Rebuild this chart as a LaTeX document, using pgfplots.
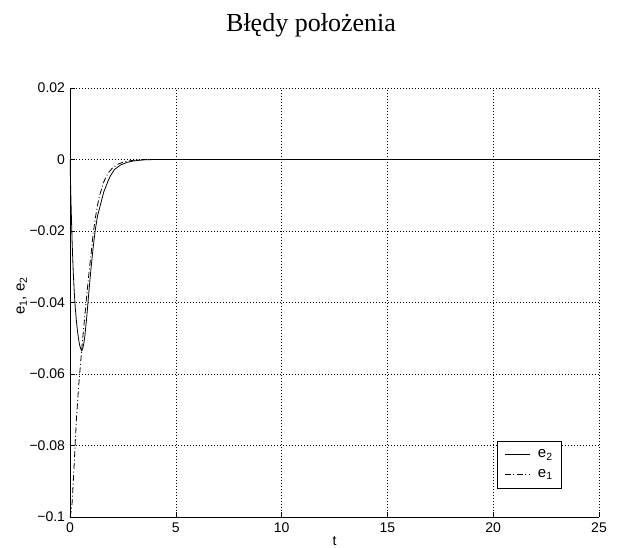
\documentclass[border=0pt]{standalone}
\usepackage{fontspec}
\setmainfont{Liberation Sans}
\newfontfamily\titlefont{Liberation Serif}
\usepackage{pgfplots}
\pgfplotsset{compat=1.18}

\begin{document}
\begin{tikzpicture}[x=1pt,y=1pt]
\path[use as bounding box] (0,0) rectangle (621,547);
\begin{axis}[
  at={(70pt,30pt)}, anchor=south west,
  scale only axis, width=529pt, height=429pt,
  xmin=0, xmax=25, ymin=-0.1, ymax=0.02,
  axis x line*=bottom, axis y line*=left,
  axis line style={-, line width=0.6pt},
  tick align=inside, major tick length=5pt,
  tick style={black, line width=0.6pt},
  xtick={0,5,10,15,20,25},
  ytick={-0.1,-0.08,-0.06,-0.04,-0.02,0,0.02},
  yticklabels={−0.1,−0.08,−0.06,−0.04,−0.02,0,0.02},
  xticklabels={0,5,10,15,20,25},
  yticklabel style={xshift=-1.5pt},
  xticklabel style={yshift=-2pt},
  grid=major,
  major grid style={black, line width=0.4pt, dash pattern=on 0.6pt off 2.4pt},
  font=\fontsize{14}{16}\selectfont,
  /pgf/number format/assume math mode=true,
  xlabel={t},
  xlabel style={at={(axis description cs:0.5,-0.056)}, anchor=center},
  ylabel={e\textsubscript{1}, e\textsubscript{2}},
  ylabel style={at={(axis description cs:-0.091,0.515)}, anchor=center, font=\fontsize{15}{17}\selectfont},
  legend cell align=left,
  legend style={at={(0.930,0.067)}, anchor=south east, draw=black,
    line width=0.6pt, font=\fontsize{15}{17}\selectfont,
    inner xsep=7pt, inner ysep=7pt, row sep=6pt},
  legend image code/.code={\draw[#1] (0pt,0pt) -- (25pt,0pt); \path (31pt,0pt);},
  legend image post style={line width=0.8pt},
]
\addplot[black, line width=0.8pt] coordinates {
  (0,0) (0.05,-0.0125) (0.1,-0.023) (0.15,-0.031) (0.2,-0.037)
  (0.25,-0.0415) (0.3,-0.045) (0.35,-0.0478) (0.4,-0.050) (0.45,-0.0518)
  (0.5,-0.0528) (0.55,-0.0535) (0.6,-0.0530) (0.65,-0.0515) (0.7,-0.0495)
  (0.8,-0.0435) (0.9,-0.0365) (1.0,-0.030) (1.1,-0.0243) (1.2,-0.0195)
  (1.3,-0.0158) (1.42,-0.0131) (1.6,-0.0090) (1.8,-0.0060) (1.9,-0.0047)
  (2.1,-0.0028) (2.4,-0.0015) (2.7,-0.0008) (3.0,-0.0004) (3.5,-0.0001)
  (4,0) (25,0)
};
\addlegendentry{e\textsubscript{2}}
\addplot[black, line width=0.8pt, dash pattern=on 6pt off 2.5pt on 1pt off 2.5pt] coordinates {
  (0,-0.1) (0.05,-0.0985) (0.1,-0.096) (0.2,-0.085) (0.3,-0.073)
  (0.4,-0.064) (0.5,-0.057) (0.55,-0.0535) (0.6,-0.050) (0.7,-0.0438)
  (0.8,-0.0375) (0.9,-0.0315) (1.0,-0.0262) (1.1,-0.0205) (1.2,-0.0163)
  (1.3,-0.0128) (1.4,-0.0100) (1.6,-0.0062) (1.8,-0.0038) (2.0,-0.0024)
  (2.3,-0.0012) (2.6,-0.0006) (3.0,-0.0002) (3.5,0) (25,0)
};
\addlegendentry{e\textsubscript{1}}
\end{axis}
\node[anchor=base, font=\titlefont\fontsize{26}{30}\selectfont] at (311,515) {Błędy położenia};
\end{tikzpicture}
\end{document}
